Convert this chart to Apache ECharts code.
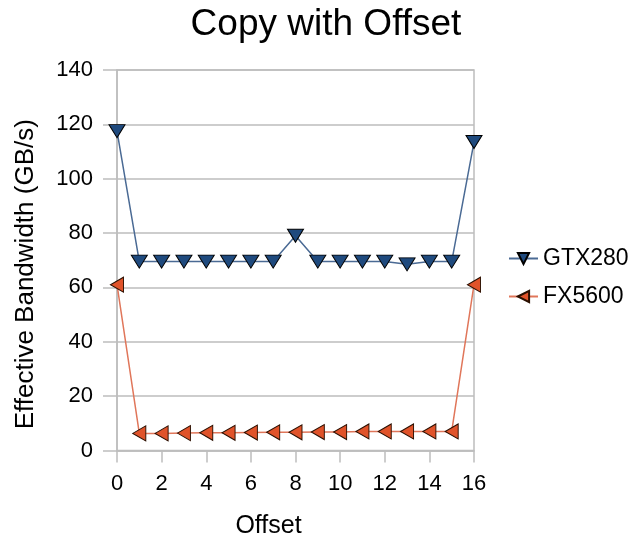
<!DOCTYPE html>
<html><head><meta charset="utf-8">
<script src="https://cdn.jsdelivr.net/npm/echarts@6/dist/echarts.min.js"></script>
<style>html,body{margin:0;padding:0;background:#fff}#c{width:631px;height:541px}</style>
</head><body><div id="c"></div>
<script>
var offsets = [0,1,2,3,4,5,6,7,8,9,10,11,12,13,14,15,16];
var gtx280 = [117.5,69.5,69.5,69.5,69.5,69.5,69.5,69.5,79,69.5,69.5,69.5,69.5,68.5,69.5,69.5,113.5];
var fx5600 = [61,6.3,6.3,6.4,6.5,6.5,6.6,6.7,6.7,6.8,6.8,7,7,7,7,7,61];
var yTicks = [0,20,40,60,80,100,120,140];
var xTicks = [0,2,4,6,8,10,12,14,16];

function pairs(v){return offsets.map(function(x,i){return [x,v[i]];});}
var font = 'Liberation Sans, Arial, sans-serif';
var chart = echarts.init(document.getElementById('c'));
chart.setOption({
  animation:false,
  backgroundColor:'#fff',
  title:{text:'Copy with Offset',left:321,top:1,textAlign:'center',textStyle:{fontFamily:font,fontSize:37,fontWeight:'normal',color:'#000'}},
  grid:{left:117,right:157,top:70,bottom:90.5,show:true,borderColor:'#bdbdbd',borderWidth:1.5,
    containLabel:false,outerBoundsMode:'none'},
  legend:{orient:'vertical',left:503,top:242,itemGap:15,itemWidth:29,itemHeight:14,
    textStyle:{fontFamily:font,fontSize:23,color:'#000'},
    data:['GTX280','FX5600']},
  xAxis:{type:'value',min:0,max:16,interval:2,
    name:'Offset',nameLocation:'middle',nameGap:63,
    nameTextStyle:{fontFamily:font,fontSize:25,color:'#000',padding:[0,54,0,0]},
    axisLine:{show:true,lineStyle:{color:'#bdbdbd',width:1.5}},
    axisTick:{show:true,length:12,lineStyle:{color:'#bdbdbd',width:1.5}},
    axisLabel:{fontFamily:font,fontSize:22,color:'#000',margin:22,
      customValues:xTicks},
    splitLine:{show:false}},
  yAxis:{type:'value',min:0,max:140,interval:20,
    name:'Effective Bandwidth (GB/s)',nameLocation:'middle',nameGap:78,
    nameTextStyle:{fontFamily:font,fontSize:26,color:'#000',padding:[0,28,0,0]},
    axisLine:{show:true,lineStyle:{color:'#bdbdbd',width:1.5}},
    axisTick:{show:true,length:14,lineStyle:{color:'#bdbdbd',width:1.5}},
    axisLabel:{fontFamily:font,fontSize:22,color:'#000',margin:24},
    splitLine:{show:true,lineStyle:{color:'#bdbdbd',width:1.5}}},
  series:[
    {name:'GTX280',type:'line',data:pairs(gtx280),symbol:'triangle',symbolRotate:180,symbolSize:[16,13],
      showAllSymbol:true,
      lineStyle:{color:'#4a6a94',width:1.5},
      itemStyle:{color:'#1f4a7e',borderColor:'#000',borderWidth:1}},
    {name:'FX5600',type:'line',data:pairs(fx5600),symbol:'triangle',symbolRotate:90,symbolSize:[15,13],
      showAllSymbol:true,
      lineStyle:{color:'#e0765a',width:1.5},
      itemStyle:{color:'#e0532a',borderColor:'#2a0f00',borderWidth:1}}
  ]
});
</script></body></html>
